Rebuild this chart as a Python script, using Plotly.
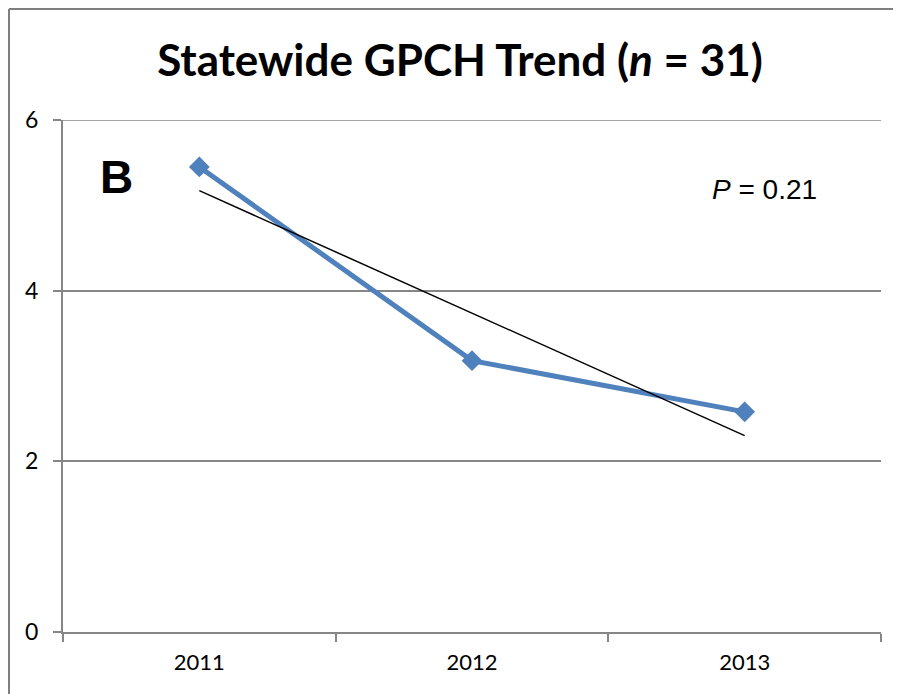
import plotly.graph_objects as go
import numpy as np

years = ["2011", "2012", "2013"]
gpch = [5.45, 3.18, 2.58]
y_ticks = [0, 2, 4, 6]
title_text = "Statewide GPCH Trend (<i>n</i> = 31)"
panel_label = "B"
p_label = "<i>P</i> = 0.21"

# linear trendline from the data
xi = np.arange(len(gpch))
slope, intercept = np.polyfit(xi, gpch, 1)
trend = list(intercept + slope * xi)

# plot area in figure pixels (page adds an 8px body offset)
L, R, T, B = 55, 873, 112, 624
W, H = 893, 686
pw, ph = R - L, B - T

fig = go.Figure()
fig.add_trace(go.Scatter(
    x=years, y=gpch, mode="lines+markers",
    line=dict(color="#4F81BD", width=5),
    marker=dict(symbol="diamond", size=16, color="#4F81BD"),
    showlegend=False, cliponaxis=False))
fig.add_trace(go.Scatter(
    x=years, y=trend, mode="lines",
    line=dict(color="black", width=1.5),
    showlegend=False))

top_grid = max(y_ticks)

fig.update_layout(
    width=W, height=H,
    margin=dict(l=L, r=W - R, t=T, b=H - B),
    paper_bgcolor="white", plot_bgcolor="white",
    title=dict(text=title_text, x=452 / W, xanchor="center", y=1 - 53 / H, yanchor="middle",
               font=dict(family="Lato, Open Sans, sans-serif", size=44, color="black", weight="bold")),
    xaxis=dict(type="category", range=[-0.5, 2.5], tickson="boundaries",
               ticks="outside", ticklen=8, tickcolor="#868686", tickwidth=2,
               showline=True, linecolor="#868686", linewidth=2, showgrid=False,
               ticklabelstandoff=10,
               tickfont=dict(family="Lato, Open Sans, sans-serif", size=22, color="black")),
    yaxis=dict(range=[0, 6], tickvals=y_ticks, ticks="outside", ticklen=8,
               tickcolor="#868686", tickwidth=2, showline=True, linecolor="#868686",
               linewidth=2, showgrid=True, gridcolor="#868686", gridwidth=1.5,
               zeroline=False, ticklabelstandoff=10,
               tickfont=dict(family="Lato, Open Sans, sans-serif", size=23, color="black")),
    annotations=[
        dict(text=panel_label, xref="paper", yref="paper",
             x=(108 - L) / pw, y=(B - 169) / ph, showarrow=False,
             xanchor="center", yanchor="middle",
             font=dict(family="Liberation Sans, Arial, sans-serif", size=46, color="black", weight="bold")),
        dict(text=p_label, xref="paper", yref="paper",
             x=(756 - L) / pw, y=(B - 181) / ph, showarrow=False,
             xanchor="center", yanchor="middle",
             font=dict(family="Liberation Sans, Arial, sans-serif", size=28, color="black")),
    ],
    shapes=[
        # top gridline (range edge)
        dict(type="line", xref="paper", yref="y", x0=0, x1=1, y0=top_grid, y1=top_grid,
             line=dict(color="#868686", width=1.5), layer="below"),
        # chart border (top and left edges visible)
        dict(type="line", xref="paper", yref="paper",
             x0=(1 - L) / pw, x1=(W + 10 - L) / pw, y0=1 + (T - 1) / ph, y1=1 + (T - 1) / ph,
             line=dict(color="#7f7f7f", width=2)),
        dict(type="line", xref="paper", yref="paper",
             x0=(1 - L) / pw, x1=(1 - L) / pw, y0=1 + (T - 1) / ph, y1=-(H + 10 - B) / ph,
             line=dict(color="#7f7f7f", width=2)),
    ],
)

fig.write_html("out.html")
